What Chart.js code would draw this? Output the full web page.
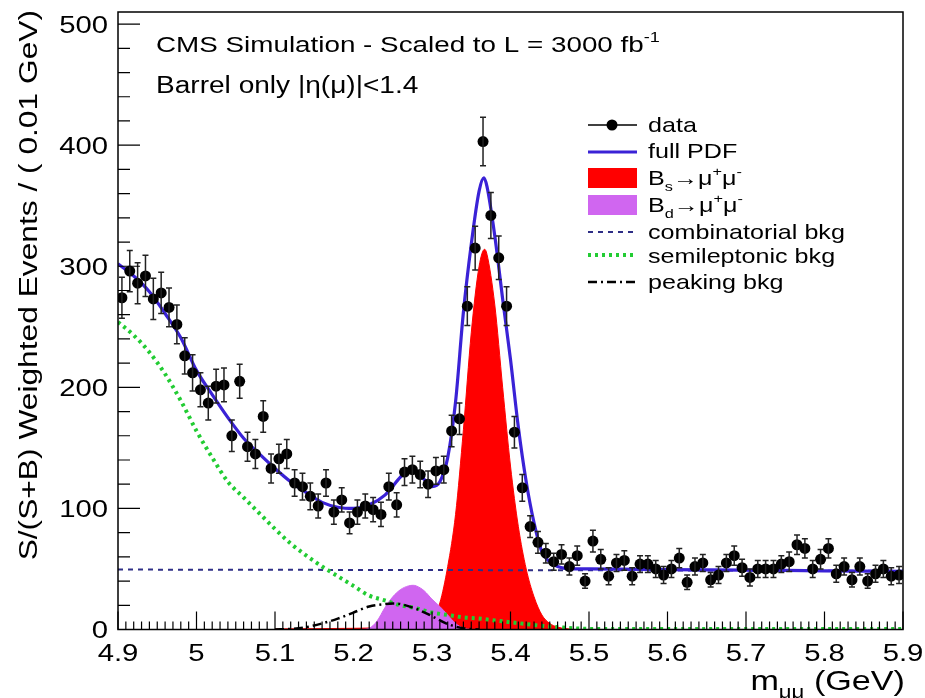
<!DOCTYPE html>
<html>
<head>
<meta charset="utf-8" />
<title>Bs -> mu mu mass fit</title>
<style>
  body { margin: 0; background: #ffffff; }
  #wrap { width: 925px; height: 698px; }
</style>
</head>
<body>
<div id="wrap"><canvas id="chart"></canvas></div>

<script src="https://cdn.jsdelivr.net/npm/chart.js"></script>
<script>
// histogram binning (0.01 GeV bins from 4.9 to 5.9)
var binStart = 4.905, binWidth = 0.01;

// weighted events per bin
var dataCounts = [
  274, 296, 286, 292, 273, 278, 266, 252, 226, 212,
  198, 187, 201, 202, 160, 205, 151, 145, 176, 133,
  141, 145, 121, 118, 110, 102, 121, 97, 107, 88,
  97, 102, 99, 95, 118, 103, 130, 132, 128, 120,
  131, 132, 164, 174, 267, 315, 403, 342, 307, 267,
  163, 117, 85, 72, 63, 56, 62, 52, 61, 40,
  73, 58, 44, 55, 57, 44, 54, 54, 50, 45,
  50, 59, 39, 52, 55, 41, 45, 55, 61, 51,
  43, 50, 50, 50, 54, 56, 70, 67, 50, 58,
  67, 46, 52, 41, 52, 40, 46, 50, 44, 45
];
var dataErrors = [
  17, 17, 17, 17, 17, 17, 16, 16, 15, 15,
  14, 14, 14, 14, 13, 14, 12, 12, 13, 12,
  12, 12, 11, 11, 11, 10, 11, 10, 10, 9,
  10, 10, 10, 10, 11, 10, 11, 11, 11, 11,
  11, 11, 13, 13, 16, 18, 20, 19, 18, 16,
  13, 11, 9, 9, 8, 7, 8, 7, 8, 6,
  9, 8, 7, 7, 8, 7, 7, 7, 7, 7,
  7, 8, 6, 7, 7, 6, 7, 7, 8, 7,
  7, 7, 7, 7, 7, 8, 8, 8, 7, 8,
  8, 7, 7, 6, 7, 6, 7, 7, 7, 7
];

// full PDF
var pdfX = [4.90, 4.92, 4.94, 4.96, 4.98, 5.00, 5.02, 5.04, 5.06, 5.08, 5.10, 5.12, 5.14, 5.16, 5.18, 5.20,
            5.22, 5.24, 5.26, 5.27, 5.28, 5.29, 5.30, 5.31, 5.32, 5.33, 5.34, 5.35, 5.36, 5.366, 5.37, 5.38,
            5.39, 5.40, 5.41, 5.42, 5.43, 5.44, 5.45, 5.46, 5.48, 5.50, 5.60, 5.70, 5.80, 5.90];
var pdfY = [302, 292, 279, 261, 241, 214, 194, 175, 158, 145, 133, 122, 113, 105, 101, 100,
            103, 111, 126, 132, 131, 124, 118, 122, 142, 188, 262, 318, 362, 373, 366, 325,
            273, 223, 167, 122, 88, 64, 56, 52, 50, 50, 49.5, 49, 48.5, 48];

// Bs -> mu mu
var bsX = [5.10, 5.20, 5.26, 5.29, 5.30, 5.31, 5.32, 5.33, 5.34, 5.35, 5.36, 5.367, 5.37, 5.38, 5.39,
           5.40, 5.41, 5.42, 5.43, 5.44, 5.45, 5.46, 5.48];
var bsY = [0.5, 1, 2, 4, 8, 22, 52, 95, 165, 245, 300, 314, 310, 268, 200,
           135, 85, 50, 27, 12, 5, 2, 0];

// Bd -> mu mu
var bdX = [5.21, 5.22, 5.23, 5.24, 5.25, 5.26, 5.27, 5.276, 5.28, 5.29, 5.30, 5.31, 5.32, 5.33, 5.34, 5.35];
var bdY = [0, 1, 7, 18, 27, 33, 36, 36.5, 36, 32, 25, 19, 12, 5, 1, 0];

// combinatorial bkg
var combX = [4.90, 5.90];
var combY = [49.5, 48.5];

// semileptonic bkg
var semiX = [4.90, 4.92, 4.94, 4.96, 4.98, 5.00, 5.02, 5.04, 5.06, 5.08, 5.10, 5.12, 5.14, 5.16, 5.18,
             5.20, 5.22, 5.24, 5.26, 5.28, 5.30, 5.32, 5.34, 5.36, 5.38, 5.40, 5.42, 5.44, 5.46, 5.48,
             5.50, 5.60, 5.70, 5.80, 5.90];
var semiY = [254, 243, 229, 211, 189, 164, 142, 122, 109, 96, 83, 71, 61, 52, 44,
             36, 28, 24, 20, 17.5, 14, 12, 10, 9, 7.5, 6, 4.5, 3, 2, 1,
             0.5, 0.5, 0.5, 0.5, 0.5];

// peaking bkg
var peakX = [5.10, 5.12, 5.14, 5.16, 5.18, 5.20, 5.22, 5.24, 5.25, 5.26, 5.28, 5.30, 5.32, 5.34, 5.36];
var peakY = [0, 0.5, 2, 5, 9, 14, 19, 21, 21.5, 21, 17, 11, 4.5, 1, 0];

var xTickLabels = ['4.9', '5', '5.1', '5.2', '5.3', '5.4', '5.5', '5.6', '5.7', '5.8', '5.9'];
var yTickLabels = ['0', '100', '200', '300', '400', '500'];

var legendLabels = ['data', 'full PDF', 'Bs', 'Bd', 'combinatorial bkg', 'semileptonic bkg', 'peaking bkg'];

function pairs(xs, ys) {
    return xs.map(function (x, i) { return { x: x, y: ys[i] }; });
}

var dataPoints = dataCounts.map(function (v, i) {
    return { x: +(binStart + i * binWidth).toFixed(3), y: v };
});

var COL_PDF = '#3a22d6';
var COL_BS = '#ff0000';
var COL_BD = '#d066f0';
var COL_COMB = '#2e2e86';
var COL_SEMI = '#22cc33';
var FONT = '"Liberation Sans", Arial, Helvetica, sans-serif';
var STRETCH = 1.22;

// text with sub/superscripts, stretched a bit wider like the original
function drawRich(ctx, x, y, parts, size, align) {
    ctx.save();
    var w = 0;
    parts.forEach(function (p) {
        ctx.font = (p[1] ? size * 0.65 : size) + 'px ' + FONT;
        w += ctx.measureText(p[0]).width;
    });
    var x0 = x;
    if (align === 'right') x0 = x - w * STRETCH;
    if (align === 'center') x0 = x - w * STRETCH / 2;
    ctx.translate(x0, y);
    ctx.scale(STRETCH, 1);
    ctx.textBaseline = 'alphabetic';
    ctx.textAlign = 'left';
    var cx = 0;
    parts.forEach(function (p) {
        ctx.font = (p[1] ? size * 0.65 : size) + 'px ' + FONT;
        var dy = 0;
        if (p[1] === 'sub') dy = size * 0.28;
        if (p[1] === 'sup') dy = -size * 0.42;
        ctx.fillText(p[0], cx, dy);
        cx += ctx.measureText(p[0]).width;
    });
    ctx.restore();
}

var rootStyle = {
    id: 'rootStyle',
    afterDatasetsDraw: function (chart) {
        // error bars of the data
        var ctx = chart.ctx, xs = chart.scales.x, ys = chart.scales.y;
        ctx.save();
        ctx.strokeStyle = '#222';
        ctx.lineWidth = 1.5;
        dataPoints.forEach(function (p, i) {
            var px = xs.getPixelForValue(p.x);
            var top = ys.getPixelForValue(p.y + dataErrors[i]);
            var bot = ys.getPixelForValue(p.y - dataErrors[i]);
            ctx.beginPath();
            ctx.moveTo(px, top); ctx.lineTo(px, bot);
            ctx.moveTo(px - 3, top); ctx.lineTo(px + 3, top);
            ctx.moveTo(px - 3, bot); ctx.lineTo(px + 3, bot);
            ctx.stroke();
        });
        ctx.restore();
    },
    afterDraw: function (chart) {
        var ctx = chart.ctx, a = chart.chartArea;
        var xs = chart.scales.x, ys = chart.scales.y;
        ctx.save();
        ctx.fillStyle = '#000';
        ctx.strokeStyle = '#000';

        // frame
        ctx.lineWidth = 1.5;
        ctx.strokeRect(a.left, a.top, a.right - a.left, a.bottom - a.top);

        // ticks pointing inward
        ctx.lineWidth = 1.2;
        ctx.beginPath();
        for (var i = 0; i <= 100; i++) {
            var px = xs.getPixelForValue(4.9 + i * 0.01);
            var len = (i % 10 === 0) ? 18 : 8;
            ctx.moveTo(px, a.bottom); ctx.lineTo(px, a.bottom - len);
        }
        for (var j = 0; j <= 25; j++) {
            var py = ys.getPixelForValue(j * 20);
            var ln = (j % 5 === 0) ? 22 : 12;
            ctx.moveTo(a.left, py); ctx.lineTo(a.left + ln, py);
        }
        ctx.stroke();

        // tick labels
        xTickLabels.forEach(function (t) {
            drawRich(ctx, xs.getPixelForValue(parseFloat(t)), a.bottom + 31, [[t]], 24, 'center');
        });
        yTickLabels.forEach(function (t) {
            drawRich(ctx, a.left - 10, ys.getPixelForValue(parseFloat(t)) + 8.5, [[t]], 24, 'right');
        });

        // axis titles
        drawRich(ctx, 905, 690, [['m'], ['\u03bc\u03bc', 'sub'], [' (GeV)']], 28, 'right');
        ctx.save();
        ctx.translate(37, 10);
        ctx.rotate(-Math.PI / 2);
        drawRich(ctx, 0, 0, [['S/(S+B) Weighted Events / ( 0.01 GeV)']], 26, 'right');
        ctx.restore();

        // labels in the frame
        drawRich(ctx, 156, 52, [['CMS Simulation - Scaled to L = 3000 fb'], ['-1', 'sup']], 22.8, 'left');
        drawRich(ctx, 156, 93, [['Barrel only |\u03b7(\u03bc)|<1.4']], 23, 'left');

        // legend
        var lx0 = 588, lx1 = 637, tx = 648, fs = 20.6;
        ctx.lineWidth = 1.5;
        ctx.beginPath(); ctx.moveTo(lx0, 125); ctx.lineTo(lx1, 125); ctx.stroke();
        ctx.beginPath(); ctx.arc(612, 125, 5.5, 0, Math.PI * 2); ctx.fill();
        drawRich(ctx, tx, 132, [[legendLabels[0]]], fs, 'left');

        ctx.strokeStyle = COL_PDF; ctx.lineWidth = 3;
        ctx.beginPath(); ctx.moveTo(lx0, 152); ctx.lineTo(lx1, 152); ctx.stroke();
        drawRich(ctx, tx, 158, [[legendLabels[1]]], fs, 'left');

        ctx.fillStyle = COL_BS; ctx.fillRect(lx0, 168, lx1 - lx0, 20);
        ctx.fillStyle = '#000';
        drawRich(ctx, tx, 185, [['B'], ['s', 'sub'], ['\u2192\u03bc'], ['+', 'sup'], ['\u03bc'], ['-', 'sup']], fs, 'left');

        ctx.fillStyle = COL_BD; ctx.fillRect(lx0, 195, lx1 - lx0, 20);
        ctx.fillStyle = '#000';
        drawRich(ctx, tx, 212, [['B'], ['d', 'sub'], ['\u2192\u03bc'], ['+', 'sup'], ['\u03bc'], ['-', 'sup']], fs, 'left');

        ctx.strokeStyle = COL_COMB; ctx.lineWidth = 2; ctx.setLineDash([5, 5]);
        ctx.beginPath(); ctx.moveTo(lx0, 232); ctx.lineTo(lx1, 232); ctx.stroke();
        drawRich(ctx, tx, 239, [[legendLabels[4]]], fs, 'left');

        ctx.strokeStyle = COL_SEMI; ctx.lineWidth = 4; ctx.setLineDash([3, 4]);
        ctx.beginPath(); ctx.moveTo(lx0, 255); ctx.lineTo(lx1, 255); ctx.stroke();
        drawRich(ctx, tx, 263, [[legendLabels[5]]], fs, 'left');

        ctx.strokeStyle = '#000'; ctx.lineWidth = 2.5; ctx.setLineDash([9, 4, 2, 4]);
        ctx.beginPath(); ctx.moveTo(lx0, 282); ctx.lineTo(lx1, 282); ctx.stroke();
        drawRich(ctx, tx, 289, [[legendLabels[6]]], fs, 'left');
        ctx.setLineDash([]);

        ctx.restore();
    }
};

var ctx = document.getElementById('chart').getContext('2d');
var myChart = new Chart(ctx, {
    type: 'line',
    data: {
        datasets: [
            {
                label: 'data', data: dataPoints, showLine: false, order: 0,
                pointRadius: 5.5, pointBackgroundColor: '#000', pointBorderColor: '#000', pointBorderWidth: 0
            },
            {
                label: 'full PDF', data: pairs(pdfX, pdfY), order: 1,
                borderColor: COL_PDF, borderWidth: 3.2, pointRadius: 0, cubicInterpolationMode: 'monotone', fill: false
            },
            {
                label: 'peaking bkg', data: pairs(peakX, peakY), order: 2,
                borderColor: '#000', borderWidth: 2.5, borderDash: [9, 4, 2, 4], pointRadius: 0,
                cubicInterpolationMode: 'monotone', fill: false
            },
            {
                label: 'semileptonic bkg', data: pairs(semiX, semiY), order: 3,
                borderColor: COL_SEMI, borderWidth: 4, borderDash: [3, 4], pointRadius: 0,
                cubicInterpolationMode: 'monotone', fill: false
            },
            {
                label: 'combinatorial bkg', data: pairs(combX, combY), order: 4,
                borderColor: COL_COMB, borderWidth: 2, borderDash: [5, 5], pointRadius: 0, fill: false
            },
            {
                label: 'Bd', data: pairs(bdX, bdY), order: 5,
                borderColor: COL_BD, backgroundColor: COL_BD, borderWidth: 1, pointRadius: 0,
                cubicInterpolationMode: 'monotone', fill: 'origin'
            },
            {
                label: 'Bs', data: pairs(bsX, bsY), order: 6,
                borderColor: COL_BS, backgroundColor: COL_BS, borderWidth: 1, pointRadius: 0,
                cubicInterpolationMode: 'monotone', fill: 'origin'
            }
        ]
    },
    options: {
        responsive: true,
        maintainAspectRatio: false,
        animation: false,
        layout: { padding: { left: 118, right: 22, top: 12, bottom: 68.5 } },
        plugins: { legend: { display: false }, tooltip: { enabled: false } },
        scales: {
            x: { type: 'linear', min: 4.9, max: 5.9, display: false },
            y: { type: 'linear', min: 0, max: 510, display: false }
        }
    },
    plugins: [rootStyle]
});
</script>
</body>
</html>
